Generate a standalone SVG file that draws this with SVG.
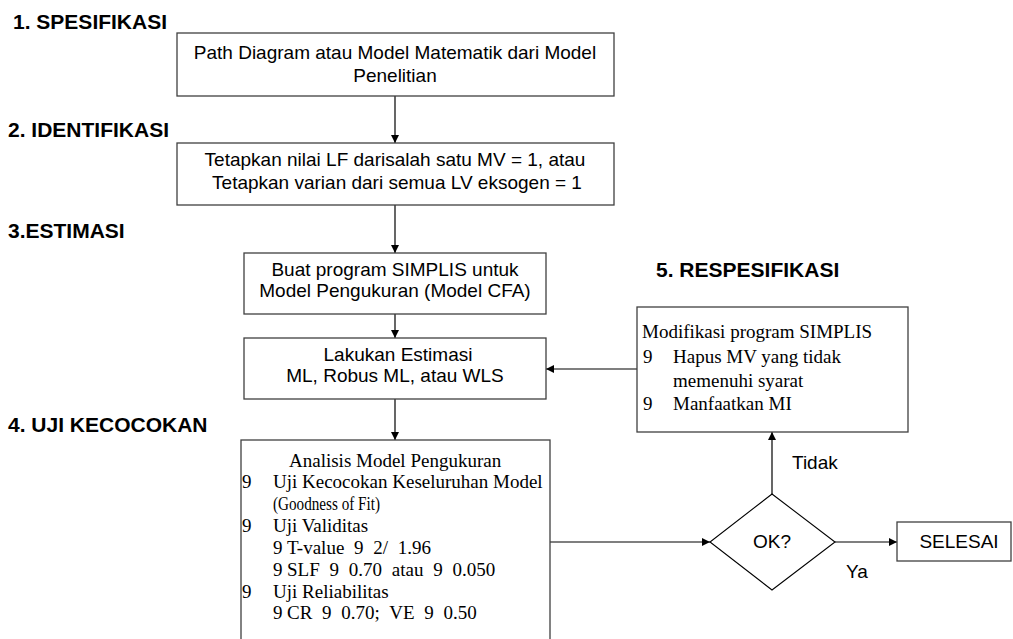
<svg xmlns="http://www.w3.org/2000/svg" width="1013" height="639" viewBox="0 0 1013 639">
<defs>
<marker id="ah" viewBox="0 0 10 10" refX="10" refY="5" markerWidth="8" markerHeight="8" markerUnits="userSpaceOnUse" orient="auto">
<path d="M0,0 L10,5 L0,10 z" fill="#000"/>
</marker>
<style>
.box{fill:#fff;stroke:#404040;stroke-width:1.3}
.h{font-family:"Liberation Sans",Arial,sans-serif;font-weight:bold;font-size:21px;fill:#000}
.t{font-family:"Liberation Sans",Arial,sans-serif;font-size:19px;fill:#000}
.c{text-anchor:middle}
.s{font-family:"Liberation Serif","Times New Roman",serif;font-size:19px;fill:#000}
.w{word-spacing:5px}
.ln{stroke:#000;stroke-width:1.2;fill:none;marker-end:url(#ah)}
</style>
</defs>
<rect width="1013" height="639" fill="#fff"/>

<g id="headings">
<text class="h" x="13" y="29">1. SPESIFIKASI</text>
<text class="h" x="8" y="137">2. IDENTIFIKASI</text>
<text class="h" x="8" y="238">3.ESTIMASI</text>
<text class="h" x="8" y="432">4. UJI KECOCOKAN</text>
<text class="h" x="656" y="277">5. RESPESIFIKASI</text>
</g>

<g id="connectors">
<line class="ln" x1="395" y1="96" x2="395" y2="143"/>
<line class="ln" x1="395" y1="205" x2="395" y2="253"/>
<line class="ln" x1="395" y1="314" x2="395" y2="338"/>
<line class="ln" x1="395" y1="399" x2="395" y2="440"/>
<line class="ln" x1="637" y1="369" x2="546" y2="369"/>
<line class="ln" x1="550" y1="542" x2="710" y2="542"/>
<line class="ln" x1="772" y1="494" x2="772" y2="432"/>
<line class="ln" x1="835" y1="542" x2="897" y2="542"/>
<text class="t" x="792" y="469">Tidak</text>
<text class="t" x="846" y="578">Ya</text>
</g>

<g id="node-spesifikasi">
<rect class="box" x="177" y="33" width="437" height="63"/>
<text class="t c" x="395" y="59">Path Diagram atau Model Matematik dari Model</text>
<text class="t c" x="395" y="82">Penelitian</text>
</g>

<g id="node-identifikasi">
<rect class="box" x="177" y="143" width="437" height="62"/>
<text class="t c" x="395" y="166">Tetapkan nilai LF darisalah satu MV = 1, atau</text>
<text class="t c" x="397" y="189">Tetapkan varian dari semua LV eksogen = 1</text>
</g>

<g id="node-simplis">
<rect class="box" x="244" y="253" width="302" height="61"/>
<text class="t c" x="395" y="276">Buat program SIMPLIS untuk</text>
<text class="t c" x="395" y="297">Model Pengukuran (Model CFA)</text>
</g>

<g id="node-estimasi">
<rect class="box" x="244" y="338" width="302" height="61"/>
<text class="t c" x="398" y="361">Lakukan Estimasi</text>
<text class="t c" x="395" y="382">ML, Robus ML, atau WLS</text>
</g>

<g id="node-analisis">
<rect class="box" x="241" y="440" width="309" height="210"/>
<text class="s" x="289" y="467">Analisis Model Pengukuran</text>
<text class="s" x="242" y="488">9</text>
<text class="s" x="273" y="488">Uji Kecocokan Keseluruhan Model</text>
<text class="s" x="273" y="510" textLength="107" lengthAdjust="spacingAndGlyphs">(Goodness of Fit)</text>
<text class="s" x="242" y="532">9</text>
<text class="s" x="273" y="532">Uji Validitas</text>
<text class="s" x="273" y="554">9</text>
<text class="s w" x="287" y="554">T-value 9 2/ 1.96</text>
<text class="s" x="273" y="576">9</text>
<text class="s w" x="287" y="576">SLF 9 0.70 atau 9 0.050</text>
<text class="s" x="242" y="598">9</text>
<text class="s" x="273" y="598">Uji Reliabilitas</text>
<text class="s" x="273" y="619">9</text>
<text class="s w" x="287" y="619">CR 9 0.70; VE 9 0.50</text>
</g>

<g id="node-modifikasi">
<rect class="box" x="637" y="307" width="271" height="125"/>
<text class="s" x="642" y="338">Modifikasi program SIMPLIS</text>
<text class="s" x="643" y="363">9</text>
<text class="s" x="673" y="363">Hapus MV yang tidak</text>
<text class="s" x="673" y="387">memenuhi syarat</text>
<text class="s" x="643" y="410">9</text>
<text class="s" x="673" y="410">Manfaatkan MI</text>
</g>

<g id="node-ok">
<polygon class="box" points="772,494 835,542 772,590 710,542" style="stroke:#000;stroke-width:1.1"/>
<text class="t c" x="772" y="548">OK?</text>
</g>

<g id="node-selesai">
<rect class="box" x="897" y="522" width="114" height="39"/>
<text class="t c" x="959" y="548">SELESAI</text>
</g>
</svg>
